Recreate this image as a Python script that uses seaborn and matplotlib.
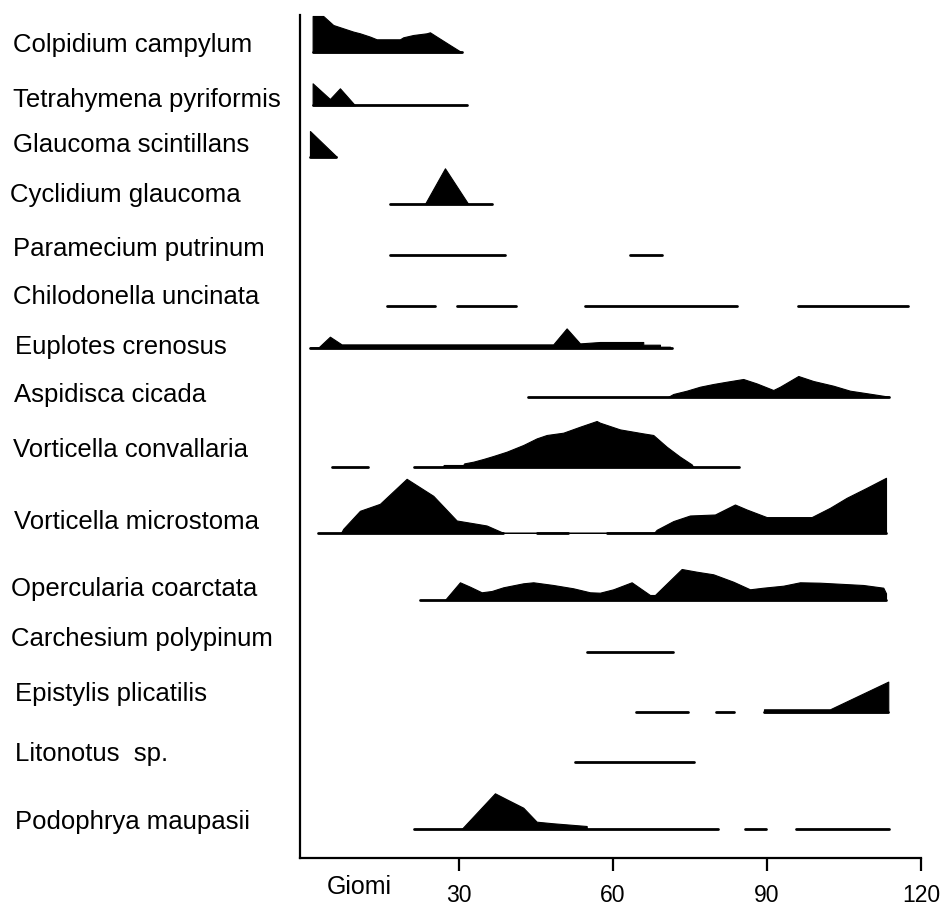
import numpy as np
import pandas as pd
import matplotlib
matplotlib.use("Agg")
import matplotlib.pyplot as plt
import seaborn as sns

# ---------------- data ----------------
species = ["Colpidium campylum", "Tetrahymena pyriformis", "Glaucoma scintillans",
           "Cyclidium glaucoma", "Paramecium putrinum", "Chilodonella uncinata",
           "Euplotes crenosus", "Aspidisca cicada", "Vorticella convallaria",
           "Vorticella microstoma", "Opercularia coarctata", "Carchesium polypinum",
           "Epistylis plicatilis", "Litonotus  sp.", "Podophrya maupasii"]

# presence (low abundance) segments: (start day, end day)
seg_colpidium = [(1.5, 30.5)]
seg_tetrahymena = [(1.5, 31.5)]
seg_glaucoma = [(0.9, 6.1)]
seg_cyclidium = [(16.5, 36.4)]
seg_paramecium = [(16.5, 38.9), (63.3, 69.6)]
seg_chilodonella = [(16.0, 25.4), (29.5, 41.0), (54.5, 84.1), (96.1, 117.4)]
seg_euplotes = [(0.9, 71.5)]
seg_aspidisca = [(43.4, 113.8)]
seg_vconvallaria = [(5.2, 12.3), (21.2, 84.6)]
seg_vmicrostoma = [(2.6, 38.6), (45.1, 51.3), (58.8, 113.2)]
seg_opercularia = [(22.4, 113.2)]
seg_carchesium = [(54.9, 71.6)]
seg_epistylis = [(64.5, 74.7), (80.1, 83.6), (89.4, 113.6)]
seg_litonotus = [(52.6, 75.8)]
seg_podophrya = [(21.2, 80.5), (85.7, 89.8), (95.7, 113.7)]

# abundance profiles: days and relative abundance
day_colpidium = [1.46, 1.46, 3.53, 5.48, 7.43, 9.38, 10.68, 12.63, 13.94, 18.48, 19.12, 21.07, 23.68, 24.32, 25.63, 28.22, 30.5]
abd_colpidium = [0, 36.3, 36.3, 27.3, 24, 20.7, 19, 15.7, 13, 13, 15, 17.3, 19, 20, 15.7, 7.3, 0]
day_tetrahymena = [1.46, 1.46, 4.83, 6.78, 9.71]
abd_tetrahymena = [0, 22, 6.3, 17, 0]
day_glaucoma = [0.94, 0.94, 6.14]
abd_glaucoma = [0, 25.7, 0]
day_cyclidium = [23.35, 27.25, 31.79]
abd_cyclidium = [0, 35.7, 0]
day_euplotes = [0.94, 2.55, 4.83, 7.11, 48.35, 50.96, 53.56, 57.45, 65.89, 65.89, 69.15, 69.15, 71.1, 71.1]
abd_euplotes = [0, 0, 11, 3.3, 3.3, 19.3, 4.3, 5.7, 5.7, 3, 3, 1, 1, 0]
day_aspidisca = [70.8, 71.74, 74.35, 76.95, 79.54, 82.15, 85.38, 87.99, 91.23, 92.54, 96.1, 99.03, 102.92, 106.18, 108.77, 111.69, 113.78]
abd_aspidisca = [0, 2.7, 6, 10, 12.7, 15, 17.7, 13.3, 6.7, 10, 20.7, 15.7, 11, 6, 4, 1.7, 0]
day_vconvallaria = [26.9, 27.0, 30.8, 31.0, 32.76, 34.71, 36.66, 39.27, 42.51, 45.12, 47.07, 50.3, 53.56, 56.81, 57.45, 61.35, 65.89, 67.84, 70.45, 73.05, 75.33, 75.6]
abd_vconvallaria = [0, 1.7, 1.7, 3.3, 5, 7.7, 10.7, 15, 21.7, 28.3, 31.7, 34, 40, 45.7, 44, 37.3, 33.3, 31.7, 20, 10, 2.3, 0]
day_vmicrostoma = [7.0, 7.43, 10.68, 14.58, 19.78, 24.97, 29.53, 33.42, 35.37, 38.61,
                   68.0, 68.51, 71.74, 74.99, 79.87, 83.76, 86.05, 89.94, 98.71, 102.28, 105.53, 109.43, 113.2, 113.2]
abd_vmicrostoma = [0, 4, 22, 29, 54, 37, 12.3, 9, 7.3, 0,
                   0, 3, 11.7, 17.3, 18.3, 28.3, 23.3, 15.7, 15.7, 25, 35, 45, 55, 0]
day_opercularia = [27.25, 30.17, 32.12, 34.4, 36.35, 38.61, 42.51, 44.46, 48.35, 52.25, 55.51, 57.45, 60.05, 63.63, 67.2, 68.17,
                   73.38, 76.3, 79.54, 83.43, 86.69, 89.28, 93.18, 96.43, 100.33, 108.77, 112.67, 113.2, 113.2]
abd_opercularia = [0, 17.7, 13.3, 7.7, 9, 12.7, 16.7, 17.7, 15, 11.7, 7.7, 7.3, 10.7, 17.7, 5, 5,
                   31, 28.3, 25.7, 18.3, 10.7, 12.3, 14.3, 17.7, 17.3, 15, 12.3, 6.7, 0]
day_epistylis = [89.42, 89.42, 102.28, 113.64, 113.64]
abd_epistylis = [0, 3, 3, 30.7, 0]
day_podophrya = [30.5, 36.99, 39.27, 42.51, 45.12, 48.35, 54.86, 54.9]
abd_podophrya = [0, 35.7, 29.7, 21.3, 7.3, 5.7, 3, 0]

segments = [seg_colpidium, seg_tetrahymena, seg_glaucoma, seg_cyclidium, seg_paramecium,
            seg_chilodonella, seg_euplotes, seg_aspidisca, seg_vconvallaria, seg_vmicrostoma,
            seg_opercularia, seg_carchesium, seg_epistylis, seg_litonotus, seg_podophrya]
profiles = [(day_colpidium, abd_colpidium), (day_tetrahymena, abd_tetrahymena),
            (day_glaucoma, abd_glaucoma), (day_cyclidium, abd_cyclidium), None, None,
            (day_euplotes, abd_euplotes), (day_aspidisca, abd_aspidisca),
            (day_vconvallaria, abd_vconvallaria), (day_vmicrostoma, abd_vmicrostoma),
            (day_opercularia, abd_opercularia), None, (day_epistylis, abd_epistylis),
            None, (day_podophrya, abd_podophrya)]
x_ticks = [30, 60, 90, 120]
x_label = "Giomi"

# ---------------- layout ----------------
W, H = 940, 911
row_px = [52.3, 105.3, 156.7, 204, 254.7, 305.7, 347.7, 396.7, 466.7, 532.8,
          600, 652.3, 712.3, 762.3, 829]
label_base_px = [52, 107, 152, 202, 256, 304, 354, 402, 457, 529, 596, 646, 701, 761, 829]
label_x_px = [13, 13, 13, 10, 13, 13, 15, 14, 13, 14, 11, 11, 15, 15, 15]
ax_left, ax_right, ax_top, ax_bot = 300.0, 920.9, 15.0, 857.7

sns.set_theme(style="white")
plt.rcParams["font.family"] = ["Liberation Sans", "DejaVu Sans"]

fig = plt.figure(figsize=(W / 100, H / 100), dpi=100)
ax = fig.add_axes([ax_left / W, 1 - ax_bot / H, (ax_right - ax_left) / W, (ax_bot - ax_top) / H])
ax.set_xlim(-1.0, 120.0)
ax.set_ylim(0, ax_bot - ax_top)
row_base = [ax_bot - p for p in row_px]

# presence segments via seaborn
rows = []
sid = 0
for i, segs in enumerate(segments):
    for (a, b) in segs:
        rows.append({"day": a, "level": row_base[i], "seg": sid})
        rows.append({"day": b, "level": row_base[i], "seg": sid})
        sid += 1
seg_df = pd.DataFrame(rows)
sns.lineplot(data=seg_df, x="day", y="level", units="seg", estimator=None,
             color="black", lw=2.0, ax=ax, legend=False)

# abundance profiles
for i, prof in enumerate(profiles):
    if prof is None:
        continue
    d, a = np.array(prof[0], float), np.array(prof[1], float)
    ax.fill_between(d, row_base[i], row_base[i] + a, color="black", lw=0.8,
                    edgecolor="black", zorder=3)

# axes styling
for s in ["top", "right"]:
    ax.spines[s].set_visible(False)
for s in ["left", "bottom"]:
    ax.spines[s].set_linewidth(1.6)
    ax.spines[s].set_color("black")
ax.set_xticks(x_ticks)
ax.set_xticklabels([str(t) for t in x_ticks], fontsize=16.5)
ax.tick_params(axis="x", direction="out", length=9, width=1.6, color="black", pad=10,
               bottom=True, labelcolor="black")
ax.set_yticks([])
ax.set_xlabel("")
ax.set_ylabel("")

for name, bx, by in zip(species, label_x_px, label_base_px):
    fig.text(bx / W, 1 - by / H, name, ha="left", va="baseline", fontsize=18.5, color="black")

fig.text(359 / W, 1 - 894 / H, x_label, ha="center", va="baseline", fontsize=18, color="black")

fig.savefig("out.png", dpi=100)
